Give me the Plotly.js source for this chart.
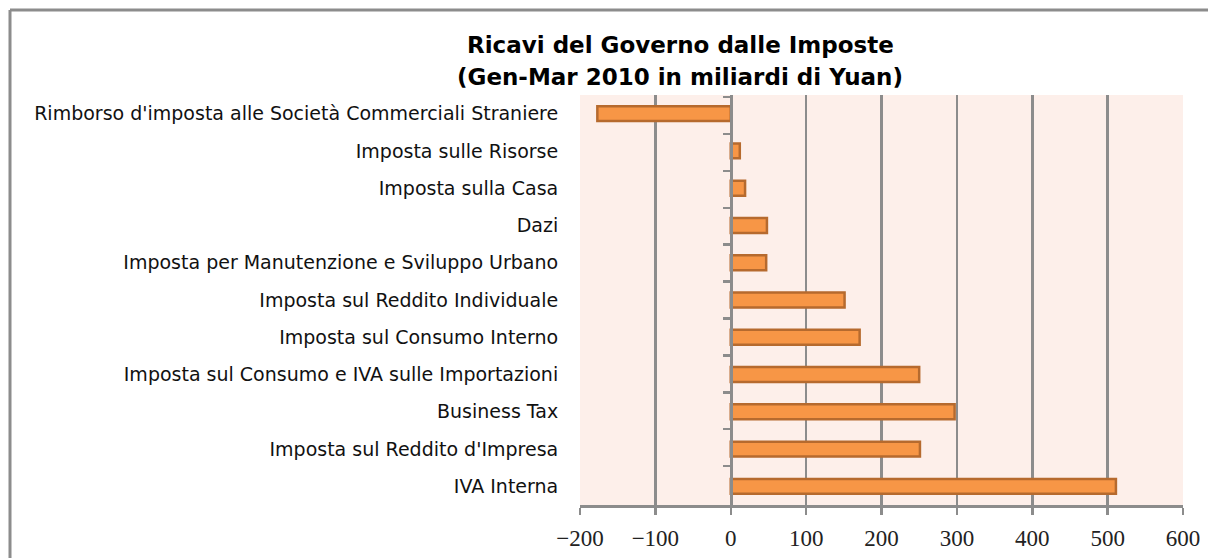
<!DOCTYPE html>
<html>
<head>
<meta charset="utf-8">
<script src="https://cdn.plot.ly/plotly-3.0.1.min.js"></script>
<style>html,body{margin:0;padding:0;background:#fff;}#chart{width:1208px;height:558px;}</style>
</head>
<body>
<div id="chart"></div>
<script>
const categories = [
  "Rimborso d'imposta alle Società Commerciali Straniere",
  "Imposta sulle Risorse",
  "Imposta sulla Casa",
  "Dazi",
  "Imposta per Manutenzione e Sviluppo Urbano",
  "Imposta sul Reddito Individuale",
  "Imposta sul Consumo Interno",
  "Imposta sul Consumo e IVA sulle Importazioni",
  "Business Tax",
  "Imposta sul Reddito d'Impresa",
  "IVA Interna"
];
const values = [-177, 12, 19, 48, 47, 151, 171, 250, 297, 251, 511];
const xTicks = [-200, -100, 0, 100, 200, 300, 400, 500, 600];
const titleLine1 = "Ricavi del Governo dalle Imposte";
const titleLine2 = "(Gen-Mar 2010 in miliardi di Yuan)";

const W = 1208, H = 558;
const L = 580, R = 25, T = 95, B = 53;
const pw = W - L - R, ph = H - T - B;
const px = (p) => (p - L) / pw;
const py = (p) => (H - B - p) / ph;
const gray = '#8c8c8c';

const bars = {
  type: 'bar',
  orientation: 'h',
  y: categories,
  x: values,
  width: 0.4,
  marker: { color: '#F79646', line: { color: 'rgb(182,106,46)', width: 2.5 } },
  hoverinfo: 'skip'
};
// invisible companion trace that only registers the axis drawn at x = 0
const axisAtZero = {
  type: 'scatter', mode: 'none',
  y: categories, x: values,
  yaxis: 'y2', hoverinfo: 'skip', showlegend: false
};

const layout = {
  width: W, height: H,
  margin: { l: L, r: R, t: T, b: B, pad: 0 },
  paper_bgcolor: '#ffffff',
  plot_bgcolor: '#FDEFEA',
  showlegend: false,
  xaxis: {
    range: [-200, 600],
    tickvals: xTicks,
    ticktext: xTicks.map(v => v < 0 ? '\u2212' + Math.abs(v) : String(v)),
    showgrid: true, gridcolor: gray, gridwidth: 2.5,
    zeroline: false,
    showline: true, linecolor: gray, linewidth: 3,
    ticks: 'outside', ticklen: 7, tickwidth: 2.5, tickcolor: gray,
    ticklabelstandoff: 3,
    tickfont: { family: 'Liberation Serif, DejaVu Serif, serif', size: 23, color: '#222' },
    fixedrange: true
  },
  yaxis: {
    type: 'category',
    categoryorder: 'array', categoryarray: categories,
    autorange: 'reversed',
    showgrid: false, zeroline: false, showline: false,
    ticks: 'outside', ticklen: 17, tickcolor: 'rgba(0,0,0,0)',
    tickfont: { family: 'DejaVu Sans, Verdana, sans-serif', size: 19, color: '#111' },
    fixedrange: true
  },
  yaxis2: {
    type: 'category',
    categoryorder: 'array', categoryarray: categories,
    autorange: 'reversed',
    overlaying: 'y', anchor: 'free', position: 0.25, side: 'left',
    tickson: 'boundaries',
    showticklabels: false, showgrid: false, zeroline: false,
    showline: true, linecolor: gray, linewidth: 3,
    ticks: 'outside', ticklen: 7, tickwidth: 2.5, tickcolor: gray,
    fixedrange: true
  },
  annotations: [
    { text: '<b>' + titleLine1 + '</b>', xref: 'paper', yref: 'paper', x: px(680), y: py(45), xanchor: 'center', yanchor: 'middle', showarrow: false,
      font: { family: 'DejaVu Sans, sans-serif', size: 23, color: '#000' } },
    { text: '<b>' + titleLine2 + '</b>', xref: 'paper', yref: 'paper', x: px(680), y: py(77), xanchor: 'center', yanchor: 'middle', showarrow: false,
      font: { family: 'DejaVu Sans, sans-serif', size: 23, color: '#000' } }
  ],
  shapes: [
    { type: 'line', xref: 'paper', yref: 'paper', x0: px(10), x1: px(1215), y0: py(10), y1: py(10), line: { color: gray, width: 3 } },
    { type: 'line', xref: 'paper', yref: 'paper', x0: px(10), x1: px(10), y0: py(10), y1: py(570), line: { color: gray, width: 3 } }
  ]
};

Plotly.newPlot('chart', [bars, axisAtZero], layout, { displayModeBar: false, staticPlot: true });
</script>
</body>
</html>
